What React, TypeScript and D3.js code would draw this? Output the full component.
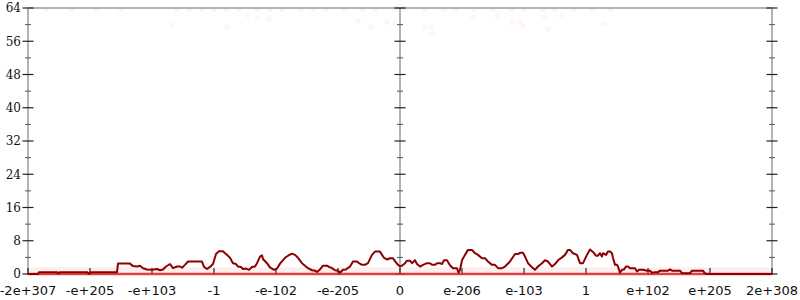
import React from "react";
import * as d3 from "d3";

// x in tick-interval units (-6..6), y = count
const tickLabels = ["-2e+307","-e+205","-e+103","-1","-e-102","-e-205","0","e-206","e-103","1","e+102","e+205","2e+308"];
const tickPositions = [-6,-5,-4,-3,-2,-1,0,1,2,3,4,5,6];
const yTicks = [0,8,16,24,32,40,48,56,64];
const yMinorTicks = [4,12,20,28,36,44,52,60];

const lineX = [-6.0,-5.839,-5.823,-5.532,-5.508,-5.484,-5.048,-5.016,-4.984,-4.565,-4.548,-4.355,-4.306,-4.242,-4.194,-4.145,-4.081,-4.0,-3.919,-3.871,-3.823,-3.774,-3.710,-3.661,-3.597,-3.548,-3.516,-3.468,-3.419,-3.194,-3.161,-3.113,-3.065,-3.016,-2.968,-2.919,-2.855,-2.823,-2.790,-2.742,-2.694,-2.645,-2.613,-2.565,-2.532,-2.484,-2.435,-2.387,-2.339,-2.306,-2.258,-2.226,-2.210,-2.145,-2.097,-2.032,-1.984,-1.935,-1.855,-1.806,-1.742,-1.694,-1.645,-1.581,-1.532,-1.484,-1.419,-1.371,-1.339,-1.290,-1.242,-1.177,-1.145,-1.097,-1.048,-1.0,-0.968,-0.919,-0.871,-0.806,-0.758,-0.694,-0.661,-0.613,-0.565,-0.516,-0.452,-0.403,-0.323,-0.290,-0.258,-0.210,-0.161,-0.113,-0.081,-0.032,0,0.032,0.081,0.113,0.161,0.194,0.242,0.274,0.323,0.371,0.435,0.484,0.516,0.565,0.597,0.645,0.677,0.710,0.758,0.806,0.855,0.919,0.944,0.968,1.0,1.048,1.097,1.161,1.210,1.258,1.323,1.371,1.419,1.484,1.532,1.581,1.645,1.694,1.774,1.855,1.903,1.935,1.984,2.016,2.065,2.129,2.177,2.226,2.290,2.339,2.387,2.452,2.5,2.548,2.613,2.661,2.710,2.742,2.790,2.855,2.903,2.952,3.016,3.065,3.113,3.161,3.194,3.226,3.258,3.274,3.323,3.355,3.387,3.419,3.435,3.468,3.5,3.516,3.548,3.581,3.613,3.645,3.677,3.710,3.790,3.823,3.855,3.919,3.984,4.032,4.065,4.113,4.161,4.194,4.323,4.355,4.387,4.516,4.548,4.677,4.710,4.887,4.919,4.968,6.0];
const lineY = [0,0,0.45,0.45,0.15,0.45,0.45,0.05,0.45,0.45,2.5,2.5,1.9,1.8,2.0,1.4,1.1,1.0,1.2,0.9,1.1,1.8,2.4,1.4,1.8,1.8,1.5,2.2,3.0,3.0,1.7,1.2,1.7,2.4,4.8,5.5,5.5,5.0,4.6,3.9,2.6,2.4,1.8,1.7,1.2,1.3,1.0,1.7,1.8,2.6,4.2,4.5,3.6,2.6,1.6,1.0,1.3,2.5,3.9,4.4,4.9,4.6,3.9,2.6,2.0,1.4,0.9,0.8,0.5,1.1,2.0,2.0,1.7,1.4,0.9,0.8,0.3,1.0,1.1,1.8,3.0,3.0,2.6,2.2,2.2,2.6,4.6,5.4,5.4,4.6,3.9,3.5,3.8,3.8,3.1,2.2,1.8,2.0,2.6,3.2,3.2,2.6,3.3,2.4,1.8,2.2,2.6,2.6,2.2,2.2,2.6,2.6,2.4,3.3,3.3,2.1,1.4,1.4,0.3,1.0,3.3,4.6,5.8,5.8,5.0,4.6,3.8,3.8,3.0,2.2,2.2,1.4,1.4,1.8,3.0,4.8,4.8,5.1,5.1,4.2,2.6,1.6,1.0,1.8,2.6,3.3,3.0,1.8,2.4,3.3,4.0,4.6,5.8,5.8,5.0,4.6,2.6,2.6,4.6,5.9,5.3,4.4,4.4,5.0,4.2,5.0,4.6,5.4,5.4,5.0,3.9,2.2,2.2,1.8,0.3,1.0,1.1,1.8,1.8,1.4,1.4,0.6,1.0,1.0,0.8,0.8,0.3,0.45,0.45,0.8,0.8,1.1,0.8,0.8,0.2,0.2,0.8,0.8,0.1,0,0];

// faint density dots near the top
const topRowX = [-5.7,-5.3,-4.9,-4.5,-3.6,-3.4,-3.2,-3.0,-2.8,-2.6,-2.3,-2.1,-1.9,-1.6,-1.4,-1.2,-0.9,-0.6,-0.4,-0.1,0.1,0.4,0.7,0.9,1.2,1.5,1.8,2.0,2.3,2.5,2.8,3.1,3.4];
const scatterX = [-2.468,-2.306,-2.113,-2.790,-3.677,-0.677,-0.468,-0.210,-0.081,0.403,0.516,0.516,1.177,1.565,1.823,1.935,1.984,2.339,2.387,2.613,3.274];
const scatterY = [62.3,61.4,61.4,59.4,59.9,60.9,59.4,60.6,60.4,59.4,59.4,58.0,61.8,62.1,60.6,60.9,59.7,61.8,58.9,62.3,60.2];

export default function App() {
  const W = 800, H = 300;
  const x = d3.scaleLinear().domain([-6, 6]).range([28, 772]);
  const y = d3.scaleLinear().domain([0, 64]).range([274, 8]);
  const pts: [number, number][] = lineX.map((v, i) => [v, lineY[i]]);
  const line = d3.line<[number, number]>().x(d => x(d[0])).y(d => y(d[1]));
  const axesX = [-6, 0, 6];

  return (
    <svg width={W} height={H} style={{ position: "absolute", left: 0, top: 0, background: "#fff" }}>
      {/* faint density */}
      <rect x={x(-6)} width={x(6) - x(-6)} y={y(1.6)} height={y(0) - y(1.6)} fill="#fbdcdc" opacity={0.5} />
      {topRowX.map((v, i) => (
        <circle key={"t" + i} cx={x(v)} cy={y(63.75)} r={3} fill="#f26" opacity={0.06} />
      ))}
      {scatterX.map((v, i) => (
        <circle key={"s" + i} cx={x(v)} cy={y(scatterY[i])} r={2.6} fill="#f44" opacity={0.05} />
      ))}

      {/* frame */}
      <line x1={x(-6)} x2={x(6)} y1={y(64)} y2={y(64)} stroke="#b4b4b4" strokeWidth={2} />
      <line x1={x(-6)} x2={x(6)} y1={y(0)} y2={y(0)} stroke="#b4b4b4" strokeWidth={2} />
      <line x1={x(-6)} x2={x(-6)} y1={y(0)} y2={y(64)} stroke="#b4b4b4" strokeWidth={2} />
      <line x1={x(6)} x2={x(6)} y1={y(0)} y2={y(64)} stroke="#b4b4b4" strokeWidth={2} />
      <line x1={x(0)} x2={x(0)} y1={y(0)} y2={y(64)} stroke="#666" strokeWidth={1} />

      {/* y ticks */}
      {axesX.map(ax => (
        <g key={"ax" + ax}>
          {yTicks.map(t => (
            <line key={"M" + t} x1={x(ax) - 5.5} x2={x(ax) + 5.5} y1={y(t)} y2={y(t)} stroke="#222" strokeWidth={1.2} />
          ))}
          {yMinorTicks.map(t => (
            <line key={"m" + t} x1={x(ax) - 3} x2={x(ax) + 3} y1={y(t)} y2={y(t)} stroke="#555" strokeWidth={1} />
          ))}
        </g>
      ))}
      {yTicks.map(t => (
        <text key={"yl" + t} x={21} y={y(t)} dy="0.36em" textAnchor="end"
          fontFamily="DejaVu Serif" fontSize={12} fill="#111">{t}</text>
      ))}

      {/* x ticks */}
      {tickPositions.map((t, i) => (
        <g key={"xt" + t}>
          <line x1={x(t)} x2={x(t)} y1={y(0) - 6} y2={y(0) + 1} stroke="#222" strokeWidth={1.2} />
          <text x={x(t)} y={295} textAnchor="middle" fontFamily="DejaVu Sans" fontSize={13} fill="#111">{tickLabels[i]}</text>
        </g>
      ))}

      {/* zero band */}
      <line x1={x(-6)} x2={x(6)} y1={y(0)} y2={y(0)} stroke="#ee2a2a" strokeWidth={2.5} opacity={0.85} />

      {/* data line */}
      <path d={line(pts) || ""} fill="none" stroke="#8b0000" strokeWidth={2} strokeLinejoin="round" />
    </svg>
  );
}
